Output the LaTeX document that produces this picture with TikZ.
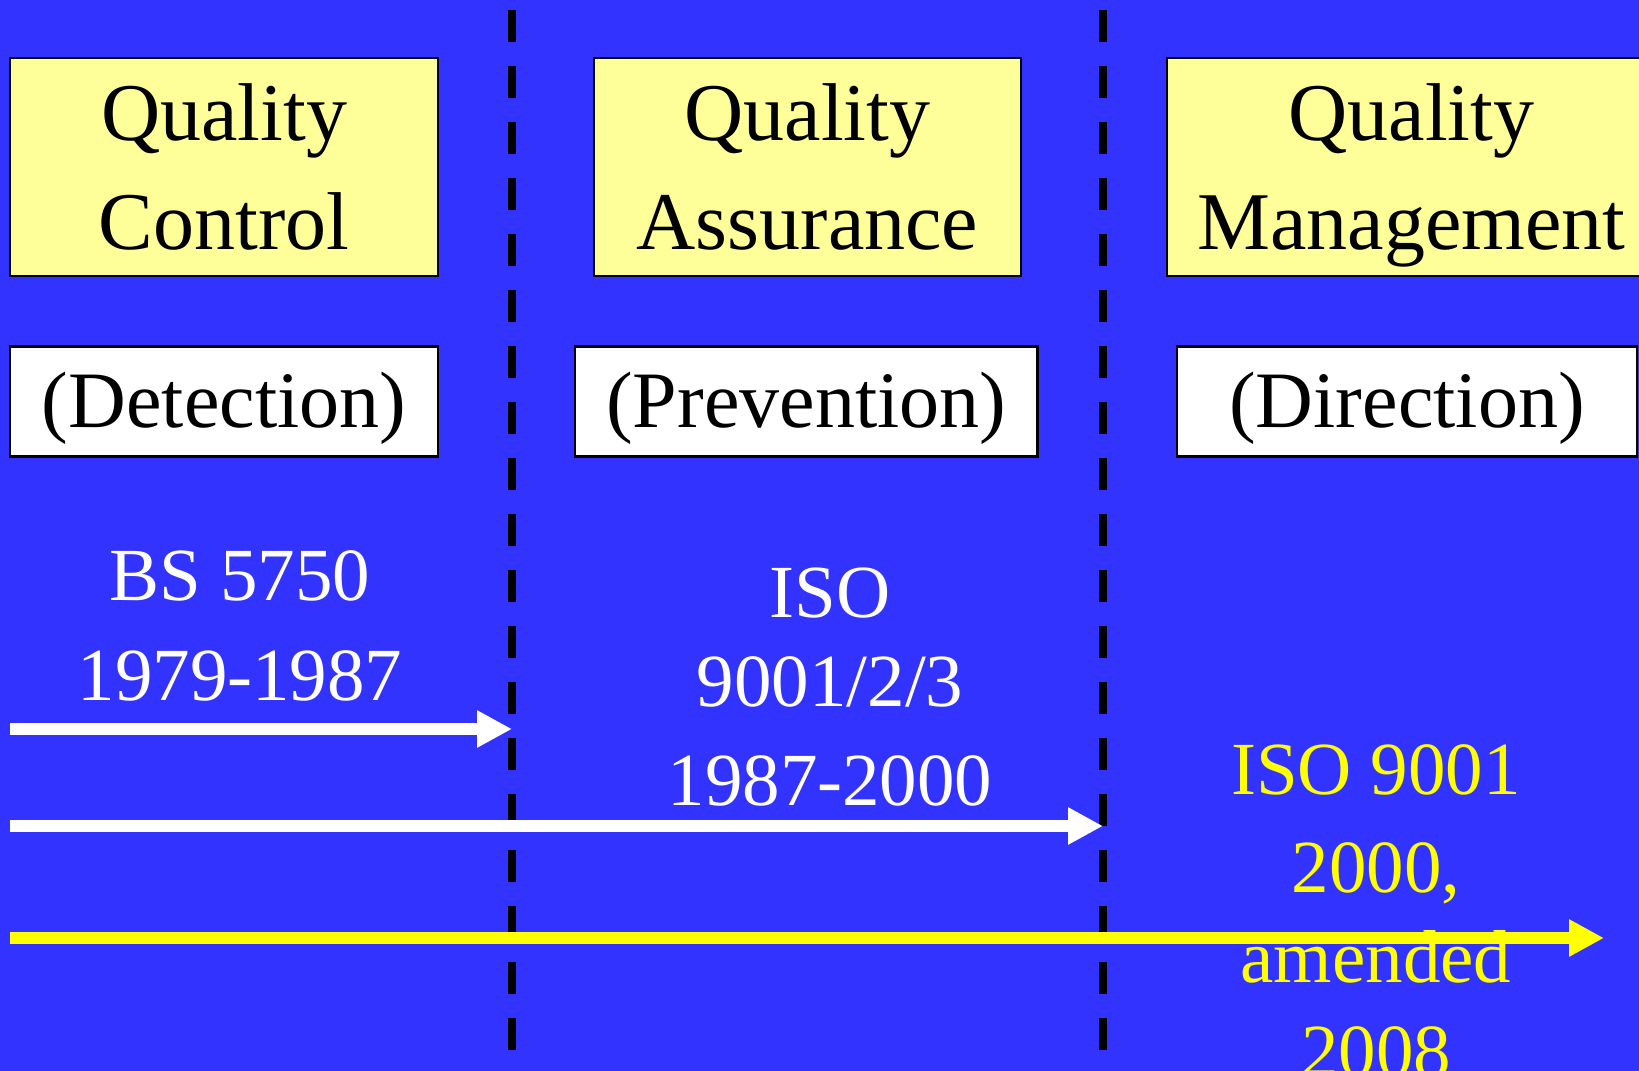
\documentclass[tikz,border=0pt]{standalone}
\usepackage{fontspec}
\setmainfont{Liberation Serif}
\usetikzlibrary{arrows.meta}
\definecolor{bgblue}{HTML}{3333FF}
\definecolor{paleyellow}{HTML}{FFFF99}
\definecolor{brightyellow}{HTML}{FFFF00}
\begin{document}
\begin{tikzpicture}[x=1pt, y=-1pt,
  titlebox/.style={draw=black, line width=2.5pt, fill=paleyellow, inner sep=0pt,
    minimum height=218pt, align=center, text depth=0pt,
    font=\fontsize{82}{109}\selectfont},
  tagbox/.style={draw=black, line width=2.5pt, fill=white, inner sep=0pt,
    minimum height=110pt, text height=80.3pt, text depth=29.5pt,
    font=\fontsize{80}{94}\selectfont},
  divider/.style={line width=8pt, black, dash pattern=on 32pt off 24pt},
  era/.style={line width=12pt, -{Triangle[length=35pt,width=35pt]}},
  note/.style={inner sep=0pt, align=center, anchor=base,
    font=\fontsize{75}{94}\selectfont}
]
% page and background
\useasboundingbox (0,0) rectangle (1639,1071);
\clip (0,0) rectangle (1639,1071);
\fill[bgblue] (0,0) rectangle (1639,1071);

% era dividers
\coordinate (d1top) at (512,10);
\coordinate (d1bot) at (512,1071);
\coordinate (d2top) at (1103,10);
\coordinate (d2bot) at (1103,1071);
\draw[divider] (d1top) -- (d1bot);
\draw[divider] (d2top) -- (d2bot);

% headings
\node[titlebox, minimum width=428pt] (qc) at (224,167) {Quality\\Control};
\node[titlebox, minimum width=427pt] (qa) at (807.5,167) {Quality\\Assurance};
\node[titlebox, minimum width=489pt] (qm) at (1411.5,167) {Quality\\Management};

\node[tagbox, minimum width=428pt] (det) at (224,401.6) {(Detection)};
\node[tagbox, minimum width=462.5pt] (prev) at (806.25,401.6) {(Prevention)};
\node[tagbox, minimum width=460pt] (dir) at (1407,401.6) {(Direction)};

% standards
\node[note, text=white] (bs) at (240,700) {BS 5750\\[6pt]1979-1987};
\node[note, text=white] (iso) at (830,805) {ISO\\[-4.5pt]9001/2/3\\[4.5pt]1987-2000};
\node[note, text=brightyellow] (iso2k) at (1376,1076) {ISO 9001\\[4.5pt]2000,\\[-4.5pt]amended\\2008};

% timelines
\coordinate (bsstart) at (10,729);
\coordinate (isostart) at (10,826);
\coordinate (qmstart) at (10,938);
\coordinate (qmend) at (1604,938);
\draw[era, white] (bsstart) -- (bsstart -| d1top);
\draw[era, white] (isostart) -- (isostart -| d2top);
\draw[era, brightyellow] (qmstart) -- (qmend);
\end{tikzpicture}
\end{document}
